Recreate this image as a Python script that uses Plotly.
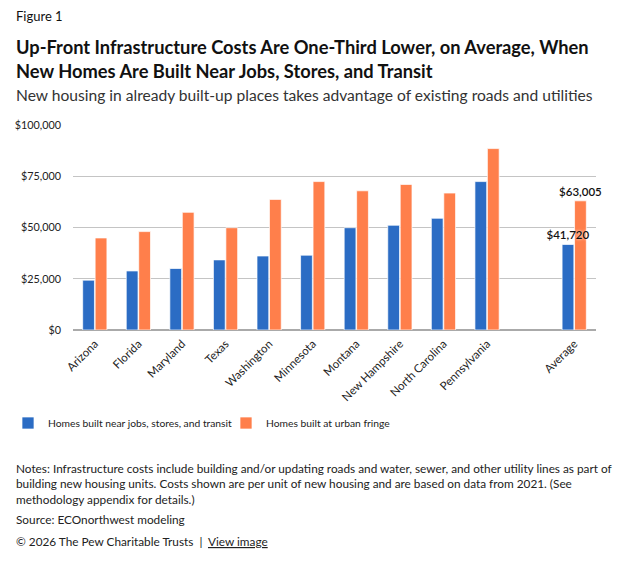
import plotly.graph_objects as go

categories = ['Arizona', 'Florida', 'Maryland', 'Texas', 'Washington', 'Minnesota',
              'Montana', 'New Hampshire', 'North Carolina', 'Pennsylvania', 'Average']
near_jobs = [24300, 28800, 30000, 34200, 36100, 36500, 49900, 51100, 54500, 72400, 41720]
urban_fringe = [44900, 48000, 57400, 49900, 63700, 72400, 67900, 71000, 66800, 88500, 63005]
y_ticks = [0, 25000, 50000, 75000, 100000]

BLUE = '#2b6cc4'
ORANGE = '#ff7f4b'
FONT = 'Lato'

# leave an empty slot before the Average group
x_pos = list(range(len(categories) - 1)) + [len(categories)]


def labels(vals):
    return [''] * (len(vals) - 1) + ['${:,.0f}'.format(vals[-1])]


fig = go.Figure()
# orange first so the blue label is drawn on top of the orange bar
for name, vals, color, offset, rank in [
        ('Homes built at urban fringe', urban_fringe, ORANGE, 0.008, 2),
        ('Homes built near jobs, stores, and transit', near_jobs, BLUE, -0.278, 1)]:
    fig.add_trace(go.Bar(x=x_pos, y=vals, name=name, offset=offset, width=0.27,
                         legendrank=rank,
                         marker=dict(color=color, line=dict(color='rgba(255,255,255,0.7)', width=1)),
                         text=labels(vals), textposition='outside', cliponaxis=False,
                         constraintext='none',
                         textfont=dict(family=FONT, size=11.5, color='#111', weight=600,
                                       shadow='0 0 3px white'),
                         hoverinfo='skip'))

# the page body adds an 8px margin, so the figure is 8px smaller than the window
fig.update_layout(
    width=616, height=561,
    margin=dict(l=65, r=28, t=117, b=239, autoexpand=False),
    paper_bgcolor='white', plot_bgcolor='white',
    font=dict(family=FONT, size=11, color='#222'),
    barmode='overlay',
    showlegend=True,
    legend=dict(orientation='h', xref='container', yref='container',
                x=-0.006, y=1 - 415 / 561, xanchor='left', yanchor='middle',
                font=dict(size=10.3), itemwidth=30, entrywidth=173),
    xaxis=dict(tickvals=x_pos, ticktext=categories, tickangle=-45,
               range=[-0.5, len(categories) + 0.5], showgrid=False, ticks='',
               ticklabelstandoff=4, tickfont=dict(size=11.5)),
    yaxis=dict(tickvals=y_ticks, ticktext=['${:,}'.format(v) for v in y_ticks],
               range=[0, 100000], gridcolor='#c4c4c4', gridwidth=1,
               zeroline=True, zerolinecolor='#aaaaaa', zerolinewidth=1.5,
               ticklabelstandoff=11, tickfont=dict(size=10.8)),
)


def py(px):
    # pixel row in the window -> paper y
    return (330 - px) / 205


def px_x(px):
    return (px - 73) / 523


texts = [
    (16, 'Figure 1', 13, '#111'),
    (59, '<b>Up-Front Infrastructure Costs Are One-Third Lower, on Average, When<br>'
         'New Homes Are Built Near Jobs, Stores, and Transit</b>', 18.3, '#111'),
    (95, 'New housing in already built-up places takes advantage of existing roads and utilities', 15.6, '#333'),
    (484, 'Notes: Infrastructure costs include building and/or updating roads and water, sewer, and other utility lines as part of<br>'
          'building new housing units. Costs shown are per unit of new housing and are based on data from 2021. (See<br>'
          'methodology appendix for details.)', 11.8, '#222'),
    (519, 'Source: ECOnorthwest modeling', 11.8, '#222'),
    (541, '© 2026 The Pew Charitable Trusts  |  <u>View image</u>', 11.8, '#222'),
]
for y, t, size, color in texts:
    fig.add_annotation(text=t, xref='paper', yref='paper', x=px_x(14), y=py(y),
                       xanchor='left', yanchor='middle', align='left', showarrow=False,
                       font=dict(family=FONT, size=size, color=color))

fig.write_html('out.html')
